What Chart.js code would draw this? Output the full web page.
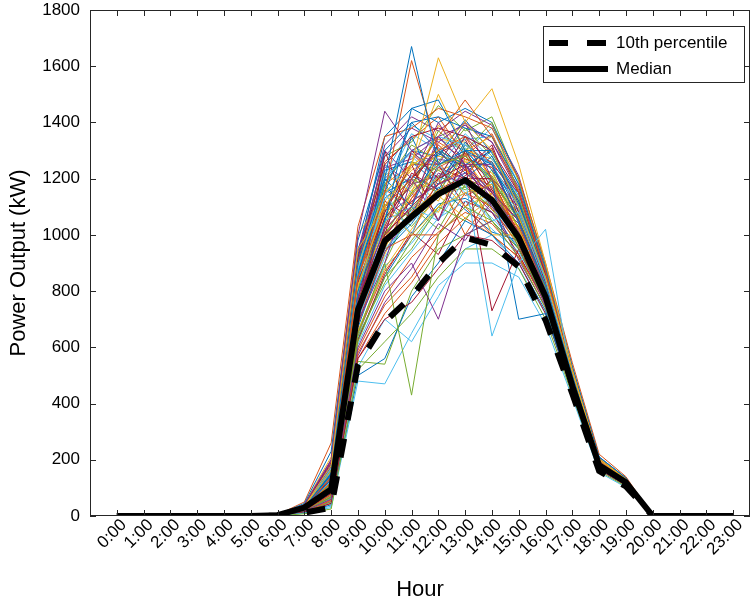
<!DOCTYPE html>
<html><head><meta charset="utf-8">
<script src="https://cdn.jsdelivr.net/npm/chart.js@4.4.1/dist/chart.umd.min.js"></script>
<style>html,body{margin:0;padding:0;background:#fff;}canvas{display:block;}</style>
</head><body>
<canvas id="c" width="754" height="603"></canvas>
<script>
const hours = [0,1,2,3,4,5,6,7,8,9,10,11,12,13,14,15,16,17,18,19,20,21,22,23];
const hourLabels = ['0:00','1:00','2:00','3:00','4:00','5:00','6:00','7:00','8:00','9:00','10:00','11:00','12:00','13:00','14:00','15:00','16:00','17:00','18:00','19:00','20:00','21:00','22:00','23:00'];
const yTicks = [0,200,400,600,800,1000,1200,1400,1600,1800];
const seriesLabels = ['10th percentile','Median'];
const median       = [0,0,0,0,0,0,3,30,95,733,978,1065,1145,1195,1124,990,780,462,180,120,0,0,0,0];
const percentile10 = [0,0,0,0,0,0,1,12,30,537,691,780,900,990,964,887,697,435,160,105,0,0,0,0];

const day01 = [0,0,0,0,0,0,2,30,150,900,1200,1670,1250,1300,1250,1050,820,500,190,125,0,0,0,0];
const day02 = [0,0,0,0,0,0,1,25,120,850,1150,1620,1300,1350,1200,1000,800,480,185,120,0,0,0,0];
const day03 = [0,0,0,0,0,0,3,35,180,950,1100,1250,1630,1400,1300,1100,850,510,200,130,0,0,0,0];
const day04 = [0,0,0,0,0,0,2,40,200,1000,1440,1300,1350,1250,1150,1050,800,490,190,125,0,0,0,0];
const day05 = [0,0,0,0,0,0,1,20,90,650,900,430,1000,1100,1050,950,760,460,175,115,0,0,0,0];
const day06 = [0,0,0,0,0,0,2,25,110,700,950,1050,1150,1200,640,900,1020,470,180,120,0,0,0,0];
const day07 = [0,0,0,0,0,0,1,20,80,750,1000,1100,1200,1250,730,950,780,470,185,118,0,0,0,0];
const day08 = [0,0,0,0,0,0,2,28,130,800,1050,1450,1480,1300,1200,700,720,450,170,112,0,0,0,0];
const day09 = [0,0,0,0,0,0,2,30,140,850,1100,1200,1350,1480,1350,1150,870,500,195,128,0,0,0,0];
const day10 = [0,0,0,0,0,0,3,35,160,900,1150,1250,1300,1400,1520,1250,900,520,200,132,0,0,0,0];
const day11 = [0,0,0,0,0,0,1,18,60,600,800,900,700,1000,1050,950,750,450,170,110,0,0,0,0];
const day12 = [0,0,0,0,0,0,0,8,25,520,620,720,850,950,950,880,700,430,160,105,0,0,0,0];
const day13 = [0,0,0,0,0,0,0,10,30,480,470,650,820,900,900,850,680,420,155,102,0,0,0,0];
const day14 = [0,0,0,0,0,0,1,15,45,560,700,760,880,1000,980,900,720,440,165,108,0,0,0,0];
const day15 = [0,0,0,0,0,0,1,12,40,500,560,780,900,1050,1000,900,730,445,168,110,0,0,0,0];
const day16 = [0,0,0,0,0,0,2,22,100,720,980,1050,1150,1200,1120,990,780,470,180,120,0,0,0,0];
const day17 = [0,0,0,0,0,0,2,24,105,740,960,1080,1160,1190,1130,980,790,475,182,121,0,0,0,0];
const day18 = [0,0,0,0,0,0,3,30,130,780,1020,1120,1180,1220,1150,1010,800,480,185,123,0,0,0,0];
const day19 = [0,0,0,0,0,0,2,26,115,760,1000,1150,1250,1280,1200,1050,810,485,188,124,0,0,0,0];
const day20 = [0,0,0,0,0,0,3,33,170,880,1200,1300,1350,1320,1250,1100,840,505,195,128,0,0,0,0];
const day21 = [0,0,0,0,0,0,3,38,190,920,1250,1350,1380,1350,1300,1150,860,515,200,130,0,0,0,0];
const day22 = [0,0,0,0,0,0,4,45,230,980,1300,1400,1420,1380,1350,1180,880,530,210,135,0,0,0,0];
const day23 = [0,0,0,0,0,0,4,50,260,1030,1350,1380,1450,1420,1380,1200,900,545,220,140,0,0,0,0];
const day24 = [0,0,0,0,0,0,2,28,120,820,1100,1000,1100,1150,1180,1020,800,480,185,122,0,0,0,0];
const day25 = [0,0,0,0,0,0,2,20,85,690,900,1200,1050,1250,1100,1000,790,470,180,119,0,0,0,0];
const day26 = [0,0,0,0,0,0,1,16,70,620,850,950,1100,1050,1200,950,760,460,176,116,0,0,0,0];
const day27 = [0,0,0,0,0,0,2,27,125,790,1150,1000,1250,1150,1050,1080,820,490,188,124,0,0,0,0];
const day28 = [0,0,0,0,0,0,2,30,135,830,1080,1250,1050,1300,1150,1050,830,495,190,126,0,0,0,0];
const day29 = [0,0,0,0,0,0,3,32,150,860,1200,1100,1300,1200,1280,1100,850,500,192,127,0,0,0,0];
const day30 = [0,0,0,0,0,0,1,18,75,650,870,1000,1000,1100,1000,920,770,462,178,117,0,0,0,0];
const day31 = [0,0,0,0,0,0,2,24,100,710,950,1150,1200,1100,1150,1000,790,478,183,121,0,0,0,0];
const day32 = [0,0,0,0,0,0,3,36,175,900,1300,1200,1400,1250,1250,1150,870,512,198,130,0,0,0,0];
const day33 = [0,0,0,0,0,0,1,14,50,550,540,800,950,1000,1050,920,740,450,170,112,0,0,0,0];
const day34 = [0,0,0,0,0,0,2,22,95,700,1050,1100,1050,1200,1100,980,790,472,181,120,0,0,0,0];
const day35 = [0,0,0,0,0,0,2,26,110,770,1000,1300,1200,1350,1250,1050,820,488,187,123,0,0,0,0];
const day36 = [0,0,0,0,0,0,3,34,160,870,1150,1400,1300,1250,1300,1120,850,505,195,128,0,0,0,0];
const day37 = [0,0,0,0,0,0,1,15,55,580,750,850,1000,1150,1100,960,760,462,175,115,0,0,0,0];
const day38 = [0,0,0,0,0,0,2,25,115,750,1000,1050,1300,1250,1000,1000,780,470,182,120,0,0,0,0];
const day39 = [0,0,0,0,0,0,3,40,200,950,1200,1300,1250,1400,1200,1100,860,510,198,130,0,0,0,0];
const day40 = [0,0,0,0,0,0,2,28,125,800,1100,1200,1150,1300,1400,1150,850,500,192,126,0,0,0,0];
const day41 = [0,0,0,0,0,0,1,12,35,530,700,620,780,950,1000,880,720,440,165,108,0,0,0,0];
const day42 = [0,0,0,0,0,0,2,22,100,720,1300,1050,1250,1100,1200,1000,800,480,185,121,0,0,0,0];
const day43 = [0,0,0,0,0,0,3,32,145,840,1050,1350,1150,1300,1300,1100,840,498,191,126,0,0,0,0];
const day44 = [0,0,0,0,0,0,2,20,90,680,950,1000,1200,1000,1150,1050,790,476,182,120,0,0,0,0];
const day45 = [0,0,0,0,0,0,4,42,210,1000,1150,1250,1500,1300,1350,1200,880,525,205,133,0,0,0,0];
const day46 = [0,0,0,0,0,0,2,26,110,760,1000,1100,1350,1250,1150,1050,810,484,186,122,0,0,0,0];
const day47 = [0,0,0,0,0,0,1,18,65,640,830,980,1100,1200,1050,950,770,465,178,117,0,0,0,0];
const day48 = [0,0,0,0,0,0,3,30,140,850,1250,1150,1200,1350,1300,1100,840,500,192,127,0,0,0,0];
const day49 = [0,0,0,0,0,0,2,24,105,730,1100,1200,1300,1200,1200,1000,800,476,183,121,0,0,0,0];
const day50 = [0,0,0,0,0,0,3,36,180,920,1350,1450,1400,1450,1400,1200,890,530,210,136,0,0,0,0];
const day51 = [0,0,0,0,0,0,2,23,98,710,1020,1120,1180,1230,1170,1000,795,478,183,121,0,0,0,0];
const day52 = [0,0,0,0,0,0,3,29,138,820,1120,1230,1280,1260,1220,1060,825,492,189,125,0,0,0,0];
const day53 = [0,0,0,0,0,0,2,21,92,690,940,1080,1220,1180,1080,990,785,472,181,119,0,0,0,0];
const day54 = [0,0,0,0,0,0,3,34,165,880,1180,1320,1260,1380,1280,1130,855,508,196,129,0,0,0,0];
const day55 = [0,0,0,0,0,0,1,17,62,610,820,940,1060,1120,1020,940,765,462,176,116,0,0,0,0];
const day56 = [0,0,0,0,0,0,2,27,118,790,1060,1180,1320,1230,1320,1080,830,494,190,125,0,0,0,0];
const day57 = [0,0,0,0,0,0,3,31,148,850,1230,1260,1180,1330,1230,1110,845,502,193,127,0,0,0,0];
const day58 = [0,0,0,0,0,0,2,25,108,750,990,1130,1240,1290,1090,1030,805,482,185,122,0,0,0,0];
const day59 = [0,0,0,0,0,0,1,19,78,660,880,1020,1140,1060,1130,970,775,466,179,118,0,0,0,0];
const day60 = [0,0,0,0,0,0,3,37,185,930,1280,1380,1330,1400,1330,1170,870,518,202,132,0,0,0,0];
const day61 = [0,0,0,0,0,0,2,24,102,745,1010,1090,1210,1160,1230,1020,800,480,184,121,0,0,0,0];
const day62 = [0,0,0,0,0,0,3,31,142,835,1140,1280,1190,1310,1180,1090,835,498,191,126,0,0,0,0];
const day63 = [0,0,0,0,0,0,1,16,68,625,860,1010,930,1120,1080,930,760,458,175,115,0,0,0,0];
const day64 = [0,0,0,0,0,0,2,26,112,775,1180,1060,1290,1240,1260,1040,815,486,187,123,0,0,0,0];
const day65 = [0,0,0,0,0,0,3,35,170,890,1260,1340,1420,1280,1360,1160,865,512,198,130,0,0,0,0];
const day66 = [0,0,0,0,0,0,2,22,96,705,930,1150,1080,1270,1140,1010,790,474,182,120,0,0,0,0];
const day67 = [0,0,0,0,0,0,1,14,52,570,760,880,1040,980,1120,910,745,452,172,113,0,0,0,0];
const day68 = [0,0,0,0,0,0,2,28,128,810,1090,1170,1370,1290,1190,1070,820,490,188,124,0,0,0,0];
const day69 = [0,0,0,0,0,0,3,33,158,865,1210,1290,1240,1360,1270,1140,850,506,195,128,0,0,0,0];
const day70 = [0,0,0,0,0,0,2,25,110,755,1030,1220,1160,1210,1310,1060,810,482,185,122,0,0,0,0];
const day71 = [0,0,0,0,0,0,1,19,80,670,940,1040,1170,1090,1010,980,780,468,180,118,0,0,0,0];
const day72 = [0,0,0,0,0,0,3,30,145,845,1160,1110,1330,1270,1240,1120,840,500,192,127,0,0,0,0];
const day73 = [0,0,0,0,0,0,2,23,100,725,1070,1190,1120,1300,1150,1030,800,478,183,121,0,0,0,0];
const day74 = [0,0,0,0,0,0,3,38,195,940,1320,1420,1370,1440,1390,1210,885,528,208,135,0,0,0,0];
const day75 = [0,0,0,0,0,0,2,27,120,785,1040,1260,1230,1170,1210,1070,825,490,189,124,0,0,0,0];
const day76 = [0,0,0,0,0,0,1,17,70,640,890,970,1090,1150,1060,960,770,464,177,117,0,0,0,0];
const day77 = [0,0,0,0,0,0,2,24,104,735,1120,1060,1180,1240,1110,1020,798,477,183,121,0,0,0,0];
const day78 = [0,0,0,0,0,0,3,32,152,860,1190,1300,1280,1410,1290,1140,852,505,194,128,0,0,0,0];
const day79 = [0,0,0,0,0,0,2,21,90,700,960,1130,1260,1140,1180,1000,790,472,181,119,0,0,0,0];
const day80 = [0,0,0,0,0,0,3,29,136,825,1100,1240,1340,1330,1200,1090,832,495,190,125,0,0,0,0];
const day81 = [0,0,0,0,0,0,2,26,114,770,1250,1180,1210,1270,1240,1050,815,486,187,123,0,0,0,0];
const day82 = [0,0,0,0,0,0,1,18,74,655,900,1100,1020,1180,1090,970,772,466,178,117,0,0,0,0];
const day83 = [0,0,0,0,0,0,3,34,162,875,1170,1360,1300,1340,1350,1150,858,508,196,129,0,0,0,0];
const day84 = [0,0,0,0,0,0,2,23,99,720,990,1070,1240,1200,1160,1010,797,476,183,120,0,0,0,0];
const day85 = [0,0,0,0,0,0,2,28,126,805,1130,1210,1160,1320,1250,1080,828,493,189,125,0,0,0,0];
const day86 = [0,0,0,0,0,0,1,15,58,590,780,920,1010,1080,1040,930,752,455,173,114,0,0,0,0];
const day87 = [0,0,0,0,0,0,3,31,150,855,1220,1150,1390,1300,1270,1130,848,503,193,127,0,0,0,0];
const day88 = [0,0,0,0,0,0,2,25,112,760,1060,1140,1270,1250,1130,1040,808,482,186,122,0,0,0,0];
const day89 = [0,0,0,0,0,0,3,36,178,905,1280,1330,1460,1370,1420,1190,872,520,203,133,0,0,0,0];
const day90 = [0,0,0,0,0,0,2,20,88,685,920,1090,1150,1220,1170,990,785,470,180,119,0,0,0,0];
const day91 = [0,0,0,0,0,0,2,27,122,795,1080,1290,1200,1280,1190,1060,822,490,188,124,0,0,0,0];
const day92 = [0,0,0,0,0,0,3,30,140,840,1150,1200,1310,1220,1300,1110,838,498,191,126,0,0,0,0];
const day93 = [0,0,0,0,0,0,1,13,45,560,720,830,970,1060,1000,920,740,450,170,112,0,0,0,0];
const day94 = [0,0,0,0,0,0,2,24,106,740,1000,1160,1230,1260,1210,1020,802,479,184,121,0,0,0,0];
const day95 = [0,0,0,0,0,0,3,33,155,870,1240,1270,1350,1390,1330,1150,855,506,195,128,0,0,0,0];
const day96 = [0,0,0,0,0,0,2,22,94,710,1110,1030,1140,1170,1100,1000,792,474,182,120,0,0,0,0];
const day97 = [0,0,0,0,0,0,3,37,182,915,1210,1390,1340,1300,1380,1180,875,522,204,134,0,0,0,0];
const day98 = [0,0,0,0,0,0,2,26,116,780,1020,1200,1290,1340,1160,1050,818,488,187,123,0,0,0,0];
const day99 = [0,0,0,0,0,0,1,17,66,630,850,1000,1110,1130,1080,950,765,462,176,116,0,0,0,0];
const day100 = [0,0,0,0,0,0,3,32,148,850,1180,1250,1250,1290,1260,1120,845,502,193,127,0,0,0,0];

const days = [day01,day02,day03,day04,day05,day06,day07,day08,day09,day10,day11,day12,day13,day14,day15,day16,day17,day18,day19,day20,
  day21,day22,day23,day24,day25,day26,day27,day28,day29,day30,day31,day32,day33,day34,day35,day36,day37,day38,day39,day40,
  day41,day42,day43,day44,day45,day46,day47,day48,day49,day50,day51,day52,day53,day54,day55,day56,day57,day58,day59,day60,
  day61,day62,day63,day64,day65,day66,day67,day68,day69,day70,day71,day72,day73,day74,day75,day76,day77,day78,day79,day80,
  day81,day82,day83,day84,day85,day86,day87,day88,day89,day90,day91,day92,day93,day94,day95,day96,day97,day98,day99,day100];
const lineColors = ['#0072BD','#D95319','#EDB120','#7E2F8E','#77AC30','#4DBEEE','#A2142F'];

const toPts = arr => arr.map((v,i) => ({x: hours[i], y: v}));
const FONT = "'Liberation Sans', Arial, Helvetica, sans-serif";
const AXIS = '#262626';

const datasets = [
  {label: seriesLabels[1], data: toPts(median), borderColor:'#000', borderWidth:6, pointRadius:0, borderJoinStyle:'round'},
  {label: seriesLabels[0], data: toPts(percentile10), borderColor:'#000', borderWidth:6, borderDash:[19,19], pointRadius:0}
];
days.forEach((d,i) => datasets.push({label:'day'+(i+1), data: toPts(d), borderColor: lineColors[i % lineColors.length], borderWidth:1, pointRadius:0}));

const boxPlugin = {
  id: 'boxPlugin',
  afterDraw(chart) {
    const ctx = chart.ctx, ca = chart.chartArea;
    const xs = chart.scales.x, ys = chart.scales.y;
    ctx.save();
    ctx.strokeStyle = AXIS; ctx.lineWidth = 1;
    ctx.strokeRect(Math.round(ca.left)+0.5, Math.round(ca.top)+0.5, Math.round(ca.right-ca.left)-1, Math.round(ca.bottom-ca.top)-1);
    ctx.beginPath();
    hours.forEach(h => {
      const px = Math.round(xs.getPixelForValue(h)) + 0.5;
      ctx.moveTo(px, ca.bottom); ctx.lineTo(px, ca.bottom - 6);
      ctx.moveTo(px, ca.top); ctx.lineTo(px, ca.top + 6);
    });
    yTicks.forEach(v => {
      const py = Math.round(ys.getPixelForValue(v)) + 0.5;
      ctx.moveTo(ca.left, py); ctx.lineTo(ca.left + 6, py);
      ctx.moveTo(ca.right, py); ctx.lineTo(ca.right - 6, py);
    });
    ctx.stroke();
    // legend
    const bx = ca.right - 207, by = ca.top + 16, bw = 201, bh = 56;
    ctx.fillStyle = '#fff';
    ctx.fillRect(bx, by, bw, bh);
    ctx.strokeStyle = AXIS; ctx.lineWidth = 1;
    ctx.strokeRect(bx + 0.5, by + 0.5, bw, bh);
    const items = [chart.data.datasets[1], chart.data.datasets[0]];
    items.forEach((ds, k) => {
      const yy = by + 17 + k * 26;
      ctx.strokeStyle = '#000'; ctx.lineWidth = 6;
      ctx.setLineDash(ds.borderDash || []);
      ctx.beginPath(); ctx.moveTo(bx + 6, yy); ctx.lineTo(bx + 65, yy); ctx.stroke();
      ctx.setLineDash([]);
      ctx.fillStyle = '#000';
      ctx.font = '17px ' + FONT;
      ctx.textBaseline = 'middle'; ctx.textAlign = 'left';
      ctx.fillText(ds.label, bx + 73, yy);
    });
    ctx.restore();
  }
};

new Chart(document.getElementById('c'), {
  type: 'line',
  data: { datasets },
  plugins: [boxPlugin],
  options: {
    responsive: false, animation: false, devicePixelRatio: 1,
    layout: { padding: { top: 10, right: 4, left: 0, bottom: 0 } },
    plugins: { legend: { display: false }, tooltip: { enabled: false } },
    elements: { line: { tension: 0 } },
    scales: {
      x: {
        type: 'linear', min: -1, max: 23.63,
        afterBuildTicks: s => { s.ticks = hours.map(h => ({value: h})); },
        afterFit: s => { s.height = 87; s.paddingLeft = 0; s.paddingRight = 0; },
        ticks: { autoSkip: false, maxRotation: 45, minRotation: 45, padding: -1, labelOffset: 7, color: '#000',
          font: { size: 17, family: FONT },
          callback: v => hourLabels[v] },
        grid: { display: false, drawTicks: false },
        border: { display: false },
        title: { display: true, text: 'Hour', color: '#000', font: { size: 22, family: FONT }, padding: { top: 1, bottom: 0 } }
      },
      y: {
        type: 'linear', min: 0, max: 1800,
        afterBuildTicks: s => { s.ticks = yTicks.map(v => ({value: v})); },
        afterFit: s => { s.width = 90; s.paddingTop = 0; s.paddingBottom = 0; },
        ticks: { padding: 10, color: '#000', font: { size: 17, family: FONT }, callback: v => String(v) },
        grid: { display: false, drawTicks: false },
        border: { display: false },
        title: { display: true, text: 'Power Output (kW)', color: '#000', font: { size: 22, family: FONT }, padding: { top: 6, bottom: 0 } }
      }
    }
  }
});
</script>
</body></html>
